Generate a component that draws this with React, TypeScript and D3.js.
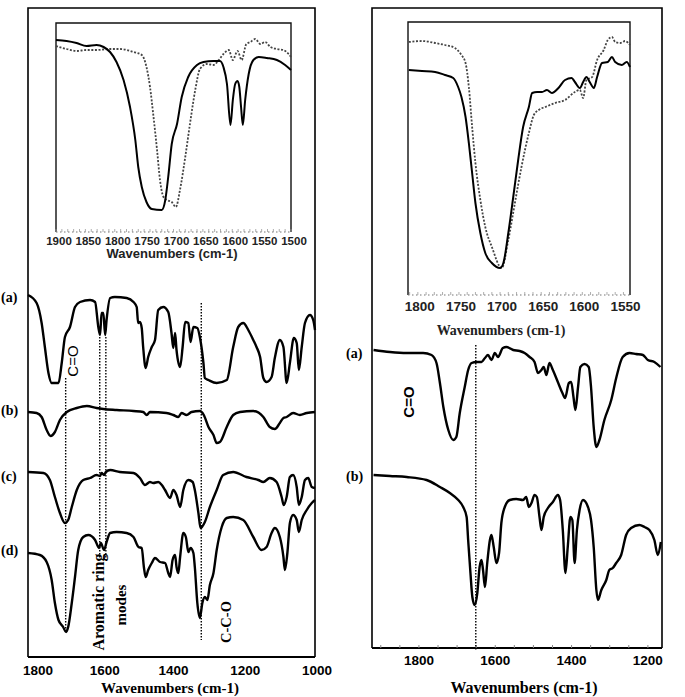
import React from "react";
import * as d3 from "d3";

type P = [number, number];

// Left main panel spectra (wavenumber, transmittance a.u.)
const leftA: P[] = [[1800,362],[1776,354],[1762,334],[1753,310],[1743,284],[1734,274],[1715,274],[1706,294],[1697,320],[1683,330],[1669,350],[1655,355],[1627,357],[1613,355],[1604,330],[1599,322],[1595,344],[1590,344],[1585,322],[1581,337],[1571,359],[1558,360],[1525,359],[1506,355],[1497,350],[1493,334],[1488,335],[1483,329],[1479,310],[1472,289],[1465,300],[1455,310],[1446,317],[1437,347],[1423,350],[1409,345],[1400,324],[1395,309],[1390,324],[1386,307],[1376,290],[1369,310],[1362,335],[1353,334],[1347,315],[1339,330],[1328,329],[1321,320],[1311,294],[1307,279],[1297,277],[1274,274],[1246,277],[1228,310],[1214,330],[1200,334],[1186,327],[1172,317],[1163,310],[1153,300],[1144,279],[1135,275],[1121,280],[1112,299],[1098,317],[1088,310],[1079,274],[1070,294],[1059,319],[1051,314],[1045,287],[1037,310],[1028,334],[1014,342],[1005,337],[1000,327]];
const leftB: P[] = [[1800,245],[1776,244],[1762,240],[1748,227],[1737,221],[1725,225],[1711,237],[1692,245],[1664,249],[1636,251],[1609,249],[1590,248],[1553,247],[1506,246],[1479,245],[1469,242],[1460,245],[1414,244],[1395,242],[1381,240],[1372,244],[1358,242],[1344,245],[1321,246],[1310,242],[1297,230],[1283,222],[1274,214],[1265,215],[1246,230],[1228,242],[1209,245],[1172,246],[1144,240],[1126,230],[1112,228],[1098,234],[1088,239],[1079,240],[1061,244],[1042,242],[1023,244],[1000,245]];
const leftC: P[] = [[1800,185],[1757,184],[1739,177],[1725,160],[1711,144],[1697,134],[1688,137],[1678,150],[1664,167],[1646,177],[1627,179],[1609,182],[1599,181],[1595,184],[1588,182],[1583,185],[1571,187],[1544,185],[1506,184],[1488,179],[1474,172],[1460,175],[1451,174],[1437,175],[1427,172],[1418,167],[1404,159],[1395,167],[1386,162],[1376,150],[1367,167],[1353,177],[1341,175],[1335,167],[1325,144],[1319,129],[1307,135],[1293,150],[1274,167],[1256,182],[1228,185],[1191,180],[1158,177],[1144,175],[1126,179],[1107,175],[1093,160],[1087,152],[1079,160],[1070,180],[1061,182],[1051,170],[1045,152],[1037,160],[1028,177],[1019,179],[1009,170],[1000,169]];
const leftD: P[] = [[1800,104],[1767,102],[1748,95],[1734,77],[1725,54],[1715,37],[1702,30],[1694,25],[1688,30],[1678,54],[1669,80],[1660,107],[1646,120],[1632,122],[1613,117],[1602,109],[1597,114],[1588,107],[1581,115],[1571,124],[1553,125],[1525,124],[1506,120],[1492,110],[1483,109],[1477,90],[1472,80],[1465,87],[1455,94],[1446,99],[1432,95],[1418,94],[1409,84],[1404,80],[1397,97],[1390,102],[1386,90],[1381,84],[1376,100],[1367,124],[1360,120],[1353,105],[1347,109],[1339,104],[1335,90],[1328,54],[1321,39],[1314,54],[1307,60],[1300,57],[1293,72],[1283,84],[1274,107],[1260,130],[1246,139],[1228,140],[1200,137],[1172,120],[1149,107],[1135,110],[1121,124],[1112,129],[1098,120],[1088,100],[1084,87],[1077,104],[1070,134],[1061,142],[1051,137],[1045,125],[1037,137],[1023,147],[1009,154],[1000,157]];

// Left inset
const leftInsetSolid: P[] = [[1900,192],[1882,191],[1865,189],[1848,186],[1831,187],[1819,185],[1808,180],[1797,170],[1785,152],[1774,125],[1765,92],[1760,65],[1754,45],[1746,30],[1737,23],[1720,22],[1714,32],[1709,55],[1703,88],[1694,108],[1686,135],[1675,155],[1660,167],[1649,170],[1632,171],[1621,171],[1615,165],[1609,148],[1603,107],[1599,132],[1595,148],[1591,151],[1588,145],[1585,125],[1582,107],[1578,132],[1572,158],[1564,172],[1555,175],[1541,174],[1524,172],[1510,167],[1500,162]];
const leftInsetDotted: P[] = [[1900,186],[1882,183],[1865,181],[1848,182],[1831,182],[1808,183],[1791,183],[1768,180],[1754,177],[1746,165],[1740,145],[1734,115],[1728,82],[1723,52],[1717,35],[1711,32],[1703,30],[1696,25],[1689,42],[1680,75],[1672,108],[1663,142],[1655,163],[1643,168],[1632,167],[1623,172],[1615,178],[1606,182],[1599,172],[1591,181],[1584,172],[1576,188],[1569,190],[1561,193],[1552,188],[1544,190],[1535,185],[1524,183],[1513,182],[1504,178],[1500,175]];

// Right main panel spectra
const rightA: P[] = [[1919,298],[1876,296],[1832,295],[1789,295],[1767,293],[1754,285],[1745,265],[1736,241],[1723,218],[1710,208],[1702,211],[1693,235],[1680,261],[1671,278],[1662,285],[1649,286],[1636,286],[1627,290],[1619,293],[1610,288],[1601,295],[1593,291],[1580,300],[1571,301],[1553,298],[1536,297],[1523,295],[1510,291],[1497,286],[1488,275],[1479,278],[1473,281],[1466,273],[1458,285],[1449,278],[1436,266],[1424,255],[1417,250],[1407,265],[1401,266],[1395,251],[1390,238],[1383,261],[1377,281],[1366,284],[1355,281],[1349,261],[1342,221],[1335,201],[1327,208],[1314,228],[1296,248],[1283,270],[1266,291],[1248,295],[1231,294],[1213,293],[1200,288],[1183,286],[1167,281]];
const rightB: P[] = [[1919,173],[1876,172],[1832,171],[1780,168],[1745,161],[1719,155],[1697,148],[1684,141],[1675,131],[1671,108],[1665,75],[1660,51],[1654,43],[1647,55],[1641,81],[1636,88],[1632,78],[1627,61],[1621,85],[1614,108],[1610,113],[1604,101],[1597,85],[1590,95],[1584,125],[1575,141],[1562,148],[1545,149],[1527,148],[1519,151],[1512,141],[1505,145],[1497,153],[1491,151],[1484,131],[1479,118],[1473,131],[1462,140],[1449,146],[1436,153],[1430,148],[1423,118],[1416,75],[1410,101],[1403,131],[1398,128],[1392,85],[1386,118],[1379,138],[1370,148],[1357,141],[1349,128],[1342,101],[1335,58],[1331,48],[1322,58],[1309,68],[1301,78],[1292,80],[1283,85],[1270,93],[1257,113],[1244,120],[1222,123],[1209,121],[1196,118],[1183,108],[1174,93],[1166,106]];

// Right inset
const rightInsetSolid: P[] = [[1811,225],[1795,224],[1779,223],[1767,220],[1757,217],[1751,208],[1747,198],[1742,178],[1738,152],[1734,122],[1730,92],[1724,62],[1718,42],[1710,32],[1700,27],[1696,32],[1690,62],[1684,98],[1678,135],[1672,168],[1665,188],[1661,202],[1655,203],[1649,203],[1643,205],[1637,202],[1629,207],[1621,215],[1613,217],[1609,213],[1603,207],[1599,213],[1595,218],[1591,213],[1586,207],[1582,218],[1576,232],[1569,233],[1564,238],[1560,233],[1552,230],[1546,233],[1542,228]];
const rightInsetDotted: P[] = [[1811,253],[1795,254],[1779,252],[1767,250],[1755,247],[1747,240],[1742,232],[1738,208],[1734,168],[1730,132],[1724,95],[1718,68],[1710,48],[1698,27],[1690,55],[1682,92],[1674,128],[1665,162],[1659,180],[1653,185],[1645,188],[1633,192],[1621,195],[1609,203],[1603,205],[1599,197],[1595,215],[1588,218],[1582,235],[1574,245],[1569,255],[1564,258],[1560,253],[1554,252],[1548,254],[1542,250]];

const leftTicks = [1800, 1600, 1400, 1200, 1000];
const rightTicks = [1800, 1600, 1400, 1200];
const leftInsetTicks = [1900, 1850, 1800, 1750, 1700, 1650, 1600, 1550, 1500];
const rightInsetTicks = [1800, 1750, 1700, 1650, 1600, 1550];
const leftMarkers = [1695, 1600, 1583, 1317];
const rightMarker = 1651;

const SANS = "'Liberation Sans', Arial, sans-serif";
const SERIF = "'Liberation Serif', 'Times New Roman', serif";

export default function App() {
  const lx = d3.scaleLinear().domain([1800, 1000]).range([28, 315]);
  const ly = d3.scaleLinear().domain([0, 400]).range([657, 257]);
  const rx = d3.scaleLinear().domain([1923, 1163]).range([372, 662]);
  const ry = d3.scaleLinear().domain([0, 400]).range([648, 248]);
  const lix = d3.scaleLinear().domain([1900, 1500]).range([56, 291]);
  const liy = d3.scaleLinear().domain([0, 209]).range([232, 23]);
  const rix = d3.scaleLinear().domain([1812, 1542]).range([408, 630]);
  const riy = d3.scaleLinear().domain([0, 273]).range([295, 22]);

  const mk = (sx: any, sy: any) =>
    d3.line<P>().x(d => sx(d[0])).y(d => sy(d[1])).curve(d3.curveMonotoneX);
  const lLine = mk(lx, ly);
  const rLine = mk(rx, ry);
  const liLine = mk(lix, liy);
  const riLine = mk(rix, riy);

  const leftMarkerSpans: [number, number][] = [[378, 632], [337, 560], [337, 560], [303, 640]];

  const liMinor = d3.range(1900, 1499, -10);
  const riMinor = d3.range(1810, 1541, -10);
  const rMinor = d3.range(1900, 1164, -50);

  return (
    <svg width={685} height={697} style={{ position: "absolute", left: 0, top: 0, background: "#fff" }}>
      <rect x={0} y={0} width={685} height={697} fill="#fff" />
      {/* ===== Left panel ===== */}
      <path d={`M28,657 L28,8 L315,8 L315,657`} fill="none" stroke="#000" strokeWidth={1.6} />
      <line x1={28} x2={315} y1={657} y2={657} stroke="#000" strokeWidth={1.8} />
      {/* left inset */}
      <path d={`M56,232 L56,23 L291,23 L291,232`} fill="none" stroke="#111" strokeWidth={1.4} />
      <line x1={56} x2={291} y1={232} y2={232} stroke="#777" strokeWidth={1.2} strokeDasharray="1.5,2.5" />
      {liMinor.map(v => (
        <line key={v} x1={lix(v)} x2={lix(v)} y1={232} y2={229} stroke="#999" strokeWidth={0.8} />
      ))}
      <path d={liLine(leftInsetDotted) || ""} fill="none" stroke="#444" strokeWidth={1.8} strokeDasharray="2,1.6" />
      <path d={liLine(leftInsetSolid) || ""} fill="none" stroke="#000" strokeWidth={2} />
      {leftInsetTicks.map(v => (
        <text key={v} x={lix(v) + 3} y={245} fontFamily={SANS} fontWeight="bold" fontSize={11.5} textAnchor="middle" fill="#222">{v}</text>
      ))}
      <text x={172} y={258} fontFamily={SANS} fontWeight="bold" fontSize={13} textAnchor="middle" fill="#222">Wavenumbers (cm-1)</text>

      {/* marker lines */}
      {leftMarkers.map((m, i) => (
        <line key={i} x1={lx(m)} x2={lx(m)} y1={leftMarkerSpans[i][0]} y2={leftMarkerSpans[i][1]} stroke="#000" strokeWidth={1.4} strokeDasharray="1.5,1.5" />
      ))}
      {[leftA, leftB, leftC, leftD].map((s, i) => (
        <path key={i} d={lLine(s) || ""} fill="none" stroke="#000" strokeWidth={2.4} strokeLinejoin="round" />
      ))}
      {leftTicks.map(v => (
        <text key={v} x={lx(v) + (v === 1800 ? 10 : v === 1600 ? 5 : 2)} y={675} fontFamily={SANS} fontWeight="bold" fontSize={13.5} textAnchor="middle" fill="#000">{v}</text>
      ))}
      <text x={170} y={693} fontFamily={SERIF} fontWeight="bold" fontSize={15} textAnchor="middle" fill="#000">Wavenumbers (cm-1)</text>
      <text x={1} y={302} fontFamily={SERIF} fontWeight="bold" fontSize={14}>(a)</text>
      <text x={1} y={415} fontFamily={SERIF} fontWeight="bold" fontSize={14}>(b)</text>
      <text x={1} y={481} fontFamily={SERIF} fontWeight="bold" fontSize={14}>(c)</text>
      <text x={1} y={555} fontFamily={SERIF} fontWeight="bold" fontSize={14}>(d)</text>
      <text transform="translate(78,361) rotate(-90)" fontFamily={SANS} fontSize={15} textAnchor="middle">C=O</text>
      <text transform="translate(104,602) rotate(-90)" fontFamily={SERIF} fontWeight="bold" fontSize={16} textAnchor="middle">Aromatic ring</text>
      <text transform="translate(126,605) rotate(-90)" fontFamily={SERIF} fontWeight="bold" fontSize={15} textAnchor="middle">modes</text>
      <text transform="translate(231,622) rotate(-90)" fontFamily={SERIF} fontWeight="bold" fontSize={14.5} textAnchor="middle">C-C-O</text>

      {/* ===== Right panel ===== */}
      <path d={`M372,648 L372,8 L662,8 L662,648`} fill="none" stroke="#000" strokeWidth={1.6} />
      <line x1={372} x2={662} y1={648} y2={648} stroke="#000" strokeWidth={1.8} />
      {rMinor.map(v => (
        <line key={v} x1={rx(v)} x2={rx(v)} y1={648} y2={645} stroke="#888" strokeWidth={1} />
      ))}
      <path d={`M408,295 L408,22 L630,22 L630,295`} fill="none" stroke="#111" strokeWidth={1.4} />
      <line x1={408} x2={630} y1={295} y2={295} stroke="#777" strokeWidth={1.2} strokeDasharray="1.5,2.5" />
      {riMinor.map(v => (
        <line key={v} x1={rix(v)} x2={rix(v)} y1={295} y2={292} stroke="#999" strokeWidth={0.8} />
      ))}
      <path d={riLine(rightInsetDotted) || ""} fill="none" stroke="#444" strokeWidth={1.8} strokeDasharray="2,1.6" />
      <path d={riLine(rightInsetSolid) || ""} fill="none" stroke="#000" strokeWidth={2} />
      {rightInsetTicks.map(v => (
        <text key={v} x={rix(v) + 2} y={311} fontFamily={SANS} fontWeight="bold" fontSize={13.5} textAnchor="middle" fill="#222">{v}</text>
      ))}
      <text x={501} y={335} fontFamily={SERIF} fontWeight="bold" fontSize={14} textAnchor="middle" fill="#222">Wavenumbers (cm-1)</text>

      <line x1={rx(rightMarker)} x2={rx(rightMarker)} y1={345} y2={650} stroke="#000" strokeWidth={1.4} strokeDasharray="1.5,1.5" />
      {[rightA, rightB].map((s, i) => (
        <path key={i} d={rLine(s) || ""} fill="none" stroke="#000" strokeWidth={2.4} strokeLinejoin="round" />
      ))}
      {rightTicks.map(v => (
        <text key={v} x={rx(v)} y={665} fontFamily={SANS} fontWeight="bold" fontSize={13.5} textAnchor="middle" fill="#000">{v}</text>
      ))}
      <text x={524} y={693} fontFamily={SERIF} fontWeight="bold" fontSize={16} textAnchor="middle" fill="#000">Wavenumbers (cm-1)</text>
      <text x={346} y={358} fontFamily={SERIF} fontWeight="bold" fontSize={14}>(a)</text>
      <text x={346} y={481} fontFamily={SERIF} fontWeight="bold" fontSize={14}>(b)</text>
      <text transform="translate(414,402) rotate(-90)" fontFamily={SANS} fontWeight="bold" fontSize={15} textAnchor="middle">C=O</text>
    </svg>
  );
}
